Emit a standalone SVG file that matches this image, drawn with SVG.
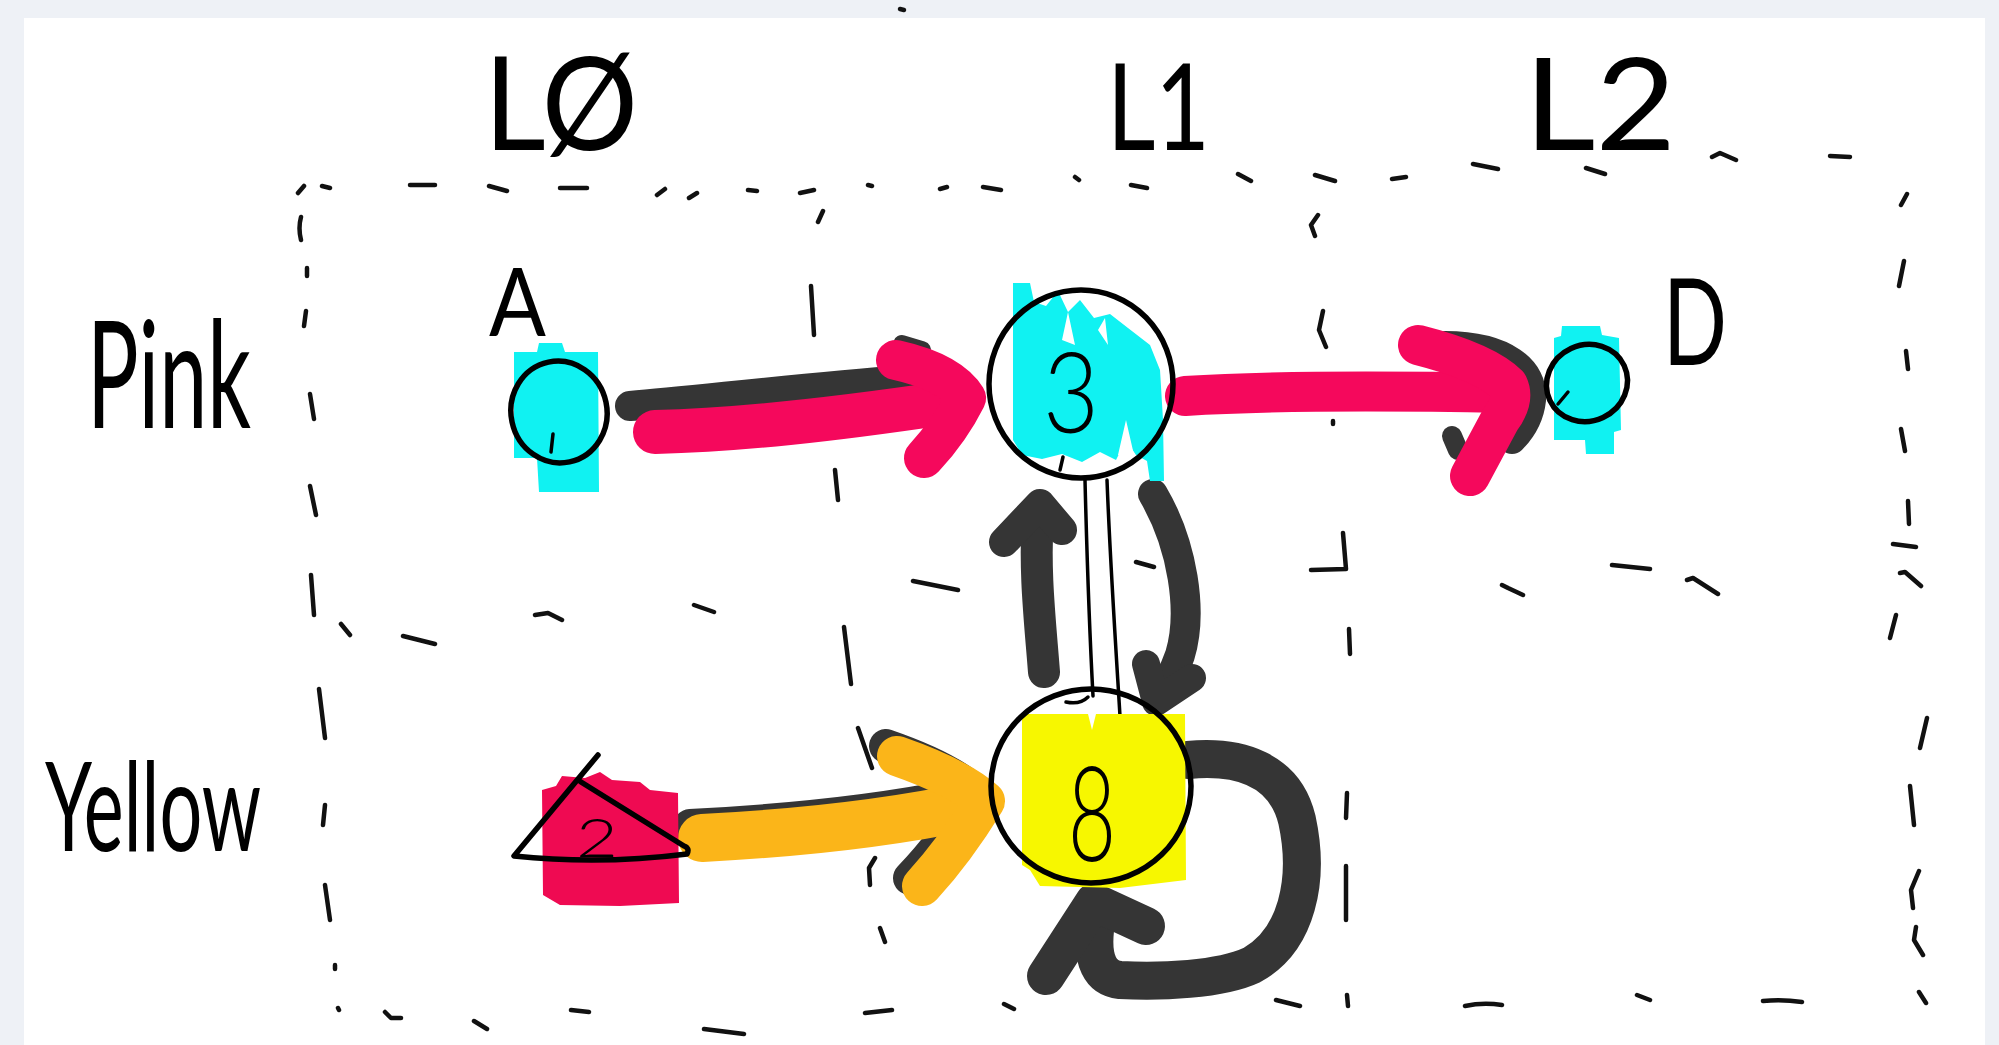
<svg xmlns="http://www.w3.org/2000/svg" width="1999" height="1045" viewBox="0 0 1999 1045">
  <style>
    .hand { font-family: Lato, "Liberation Sans", sans-serif; font-weight: 400; fill: #000; }
    .digit { font-weight: 300; }
    .dash { fill: none; stroke: #111; stroke-width: 4.5; stroke-linecap: round; stroke-linejoin: round; }
    .outline { fill: none; stroke: #000; stroke-width: 5.5; stroke-linecap: round; stroke-linejoin: round; }
    .thin { fill: none; stroke: #000; stroke-width: 3.5; stroke-linecap: round; }
    .brush { fill: none; stroke-linecap: round; stroke-linejoin: round; }
    .pink { stroke: #f5085c; }
    .shadow { stroke: #353535; }
    .amber { stroke: #fbb519; }
  </style>

  <!-- canvas -->
  <rect x="0" y="0" width="1999" height="1045" fill="#eef1f6"/>
  <rect x="24" y="18" width="1961" height="1027" fill="#ffffff"/>
  <path class="dash" d="M900,9 L904,10"/>

  <!-- hand-drawn lane grid (dashed strokes) -->
  <g id="lanes">
    <path class="dash" d="
      M298,193 L304,186 M322,186 L330,188 M410,185 L435,185 M489,186 L507,191 M560,188 L587,188
      M657,195 L665,189 M689,198 L697,193 M748,190 L757,191 M800,193 L814,190 M868,185 L872,186
      M940,189 L947,187 M983,187 L1001,190 M1075,177 L1079,180 M1131,185 L1147,188 M1238,174 L1251,181
      M1315,175 L1335,181 M1392,179 L1406,177 M1473,164 L1498,169 M1586,168 L1605,174
      M1712,157 L1720,153 L1736,160 M1830,156 L1850,157"/>
    <path class="dash" d="
      M1907,194 L1901,205 M1904,261 L1899,286 M1906,351 L1908,369 M1901,429 L1905,451 M1908,501 L1909,524
      M1893,544 L1916,547 M1900,573 L1905,572 L1921,586 M1896,615 L1890,638 M1927,718 L1920,748
      M1910,786 L1914,825 M1919,871 L1911,890 L1913,908 M1916,927 L1914,940 L1923,955 M1919,992 L1926,1003"/>
    <path class="dash" d="
      M1465,1006 Q1483,1002 1502,1005 M1637,995 L1650,1000 M1763,1001 Q1782,999 1802,1002 M1347,995 L1348,1006
      M1276,1000 L1300,1006 M1004,1004 L1014,1009 M865,1013 L892,1010 M704,1029 L744,1034 M571,1010 L589,1012
      M474,1021 L487,1029 M385,1012 L391,1018 L401,1018 M338,1008 L339,1010"/>
    <path class="dash" d="
      M301,217 Q298,228 301,240 M307,268 L307,276 M306,311 L304,326 M310,394 L314,419 M310,486 L316,515
      M311,575 L314,615 M341,624 L350,635 M403,636 L435,644 M319,689 L325,738 M325,805 L323,825
      M325,885 L330,920 M335,965 L335,969"/>
    <path class="dash" d="
      M535,615 L548,613 L562,620 M694,605 L714,612 M913,581 L958,590 M1136,562 L1154,567
      M1343,533 L1346,569 L1311,570 M1502,585 L1508,588 L1523,595 M1612,565 L1650,569
      M1687,580 L1693,578 L1718,594"/>
    <path class="dash" d="
      M823,211 L818,222 M811,286 L814,335 M835,470 L838,500 M844,627 L851,684 M858,728 L872,768
      M875,858 L869,868 L870,885 M880,928 L885,942"/>
    <path class="dash" d="
      M1318,215 L1311,225 L1315,236 M1323,311 L1319,330 L1326,347 M1333,421 L1333,424
      M1349,629 L1350,654 M1347,793 L1346,818 M1346,866 L1346,920"/>
  </g>

  <!-- lane and column titles -->
  <g id="labels">
    <text class="hand" x="484" y="150" font-size="130" textLength="154" lengthAdjust="spacingAndGlyphs">LØ</text>
    <text class="hand" x="1107" y="150" font-size="120" textLength="103" lengthAdjust="spacingAndGlyphs">L1</text>
    <text class="hand" x="1524" y="150" font-size="128" textLength="152" lengthAdjust="spacingAndGlyphs">L2</text>
    <text class="hand" x="87" y="428" font-size="150" textLength="164" lengthAdjust="spacingAndGlyphs">Pink</text>
    <text class="hand" x="45" y="851" font-size="125" textLength="216" lengthAdjust="spacingAndGlyphs">Yellow</text>
  </g>

  <!-- connectors -->
  <g id="connectors">
    <!-- A to 3 -->
    <path class="brush shadow" stroke-width="30" d="M630,406 C700,400 800,388 905,380"/>
    <path class="brush shadow" stroke-width="18" d="M902,344 L922,350"/>
    <path class="brush pink" stroke-width="44" d="M655,432 C740,430 830,420 945,403"/>
    <path class="brush pink" stroke-width="40" d="M896,360 Q950,372 966,398 Q950,430 924,458"/>

    <!-- 3 to D -->
    <path class="brush shadow" stroke-width="28" d="M1445,345 C1505,345 1535,370 1532,400 C1530,418 1522,430 1512,440"/>
    <path class="brush shadow" stroke-width="20" d="M1452,436 L1458,450"/>
    <path class="brush pink" stroke-width="40" d="M1185,396 C1280,390 1400,391 1505,393"/>
    <path class="brush pink" stroke-width="40" d="M1418,345 Q1485,362 1508,385 Q1515,400 1500,420 L1470,476"/>

    <!-- 2 to 8 -->
    <path class="brush shadow" stroke-width="34" d="M690,826 C770,822 870,813 955,796"/>
    <path class="brush shadow" stroke-width="34" d="M886,746 Q950,768 975,792 Q945,842 910,878"/>
    <path class="brush amber" stroke-width="48" d="M702,838 C780,834 880,825 970,806"/>
    <path class="brush amber" stroke-width="40" d="M897,756 Q960,778 985,801 Q955,850 922,886"/>

    <!-- 8 to 3 and 3 to 8 -->
    <path class="brush shadow" stroke-width="32" d="M1044,672 C1040,620 1034,570 1038,515"/>
    <path class="brush shadow" stroke-width="30" d="M1004,542 L1040,504 L1062,530"/>
    <path class="brush shadow" stroke-width="30" d="M1153,494 C1183,545 1193,612 1180,655 C1173,675 1165,688 1158,695"/>
    <path class="brush shadow" stroke-width="28" d="M1146,664 L1156,702 L1192,678"/>

    <!-- thin double link -->
    <path class="thin" d="M1085,480 C1087,560 1090,640 1093,696"/>
    <path class="thin" d="M1107,480 C1110,560 1116,650 1120,716"/>

    <!-- 8 self loop -->
    <path class="brush shadow" stroke-width="38" d="M1188,760 C1240,755 1285,770 1297,820 C1310,880 1297,940 1252,965 C1220,980 1160,982 1120,980 C1100,978 1092,960 1095,930"/>
    <path class="brush shadow" stroke-width="38" d="M1046,976 L1094,902 L1146,926"/>
  </g>

  <!-- node A -->
  <g id="node-A">
    <path fill="#10f2f2" d="M514,352 L537,352 L539,343 L562,343 L565,352 L598,352 L599,492 L539,492 L537,458 L514,458 Z"/>
    <ellipse class="outline" cx="559" cy="412" rx="48" ry="51" transform="rotate(-12 559 412)"/>
    <path class="thin" d="M553,434 L551,452"/>
    <text class="hand" x="489" y="336" font-size="95" textLength="57" lengthAdjust="spacingAndGlyphs">A</text>
  </g>

  <!-- node 3 -->
  <g id="node-3">
    <path fill="#10f2f2" d="M1013,283 L1030,283 L1034,302 L1046,306 L1058,291 L1068,312 L1080,300 L1094,318 L1110,314 L1128,328 L1150,345 L1160,370 L1163,420 L1164,481 L1150,481 L1147,461 L1136,455 L1126,440 L1116,460 L1100,452 L1082,462 L1062,454 L1042,459 L1022,455 L1013,440 Z"/>
    <path fill="#ffffff" d="M1062,340 L1068,312 L1075,345 Z M1098,330 L1105,318 L1108,345 Z M1118,455 L1126,420 L1134,455 Z"/>
    <ellipse class="outline" cx="1081" cy="384" rx="92" ry="94"/>
    <path class="thin" d="M1063,457 L1060,470"/>
    <text class="hand digit" x="1071" y="433" font-size="112" text-anchor="middle" textLength="56" lengthAdjust="spacingAndGlyphs">3</text>
  </g>

  <!-- node D -->
  <g id="node-D">
    <path fill="#10f2f2" d="M1554,338 L1561,336 L1562,326 L1600,326 L1602,335 L1619,338 L1621,430 L1614,432 L1614,454 L1586,454 L1585,440 L1554,440 Z"/>
    <ellipse class="outline" cx="1587" cy="383" rx="41" ry="38" transform="rotate(-25 1587 383)"/>
    <path class="thin" d="M1568,392 L1558,404"/>
    <text class="hand" x="1663" y="365" font-size="120" textLength="64" lengthAdjust="spacingAndGlyphs">D</text>
  </g>

  <!-- node 2 -->
  <g id="node-2">
    <path fill="#ef0a52" d="M542,790 L556,786 L562,776 L585,778 L600,772 L612,780 L640,782 L650,790 L678,793 L679,903 L620,906 L560,905 L543,895 Z"/>
    <path class="outline" d="M598,755 L514,856 Q600,865 687,854 Q690,848 684,846 L581,782"/>
    <text class="hand digit" x="597" y="857" font-size="54" text-anchor="middle" textLength="42" lengthAdjust="spacingAndGlyphs">2</text>
  </g>

  <!-- node 8 -->
  <g id="node-8">
    <path fill="#f7f700" d="M1022,714 L1088,714 L1092,730 L1096,714 L1185,714 L1186,880 L1120,888 L1040,886 L1030,870 L1022,865 Z"/>
    <ellipse class="outline" cx="1091" cy="786" rx="100" ry="97"/>
    <path class="thin" d="M1066,702 Q1080,705 1088,697"/>
    <text class="hand digit" x="1092" y="861" font-size="132" text-anchor="middle" textLength="48" lengthAdjust="spacingAndGlyphs">8</text>
  </g>
</svg>
